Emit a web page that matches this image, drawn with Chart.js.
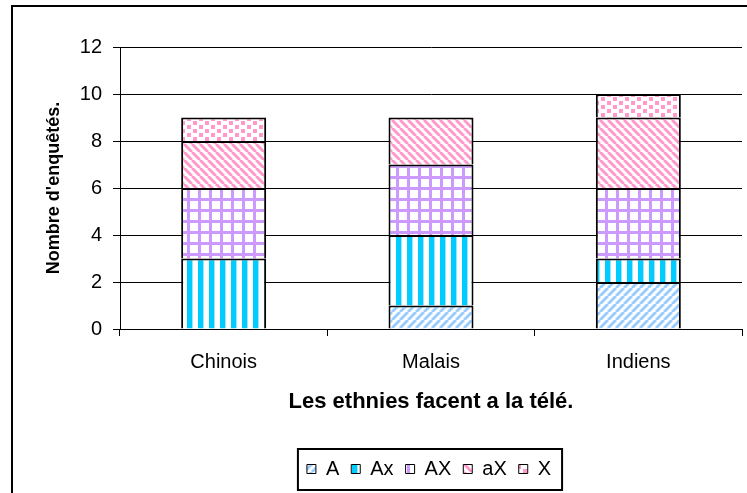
<!DOCTYPE html>
<html>
<head>
<meta charset="utf-8">
<script src="https://cdn.jsdelivr.net/npm/chart.js@4.4.1/dist/chart.umd.min.js"></script>
<style>
  html, body { margin: 0; padding: 0; background: #fff; }
</style>
</head>
<body>
<canvas id="chart" width="747" height="493"></canvas>
<script>
// données du graphique
const categories = ['Chinois', 'Malais', 'Indiens'];
const seriesNames = ['A', 'Ax', 'AX', 'aX', 'X'];
const valuesA  = [0, 1, 2];
const valuesAx = [3, 3, 1];
const valuesAX = [3, 3, 3];
const valuesaX = [2, 2, 3];
const valuesX  = [1, 0, 1];
const yTicks = [0, 2, 4, 6, 8, 10, 12];

const canvas = document.getElementById('chart');
const ctx = canvas.getContext('2d');
const FONT = "'Liberation Sans', Arial, sans-serif";

// petits motifs de remplissage (hachures style Excel)
function makePattern(w, h, draw) {
  const c = document.createElement('canvas');
  c.width = w; c.height = h;
  const g = c.getContext('2d');
  g.fillStyle = '#fff';
  g.fillRect(0, 0, w, h);
  draw(g, w, h);
  return ctx.createPattern(c, 'repeat');
}

function diag(g, w, color, up) {
  g.strokeStyle = color;
  g.lineWidth = 3;
  for (let k = -1; k <= 1; k++) {
    g.beginPath();
    if (up) { g.moveTo(k * w, w); g.lineTo(k * w + w, 0); }
    else { g.moveTo(k * w, 0); g.lineTo(k * w + w, w); }
    g.stroke();
  }
}

const patA = makePattern(8, 8, (g, w) => diag(g, w, '#99CCFF', true));
const patAx = makePattern(11, 1, g => {
  g.fillStyle = '#00CCFF'; g.fillRect(0, 0, 5, 1);
  g.fillStyle = '#99E6FF'; g.fillRect(5, 0, 1, 1);
});
const patAX = makePattern(11, 11, g => {
  g.fillStyle = '#CC99FF';
  g.fillRect(0, 0, 3, 11);
  g.fillRect(0, 0, 11, 3);
});
const pataX = makePattern(8, 8, (g, w) => diag(g, w, '#FF99CC', false));
const patX = makePattern(12, 8, g => {
  g.fillStyle = '#FF99CC';
  g.fillRect(1, 1, 4, 4);
  g.fillRect(7, 5, 4, 3);
  g.fillRect(7, 0, 4, 1);
});

const seriesValues = [valuesA, valuesAx, valuesAX, valuesaX, valuesX];
const seriesFills = [patA, patAx, patAX, pataX, patX];

const datasets = seriesNames.map((name, i) => ({
  label: name,
  data: seriesValues[i],
  backgroundColor: seriesFills[i],
  borderColor: '#000',
  borderWidth: { top: 2, bottom: 0, left: 2, right: 2 },
  borderSkipped: false,
  categoryPercentage: 1.0,
  barPercentage: 0.41
}));

// cadre, position et bordure de la légende
const framePlugin = {
  id: 'frame',
  afterLayout(chart) {
    const lg = chart.legend;
    lg.left += 58;
    lg.right += 58;
  },
  beforeDraw(chart) {
    const c = chart.ctx;
    c.save();
    c.fillStyle = '#fff';
    c.fillRect(0, 0, chart.width, chart.height);
    c.restore();
  },
  afterDraw(chart) {
    const c = chart.ctx;
    c.save();
    c.strokeStyle = '#000';
    c.lineWidth = 2;
    c.strokeRect(12, 6, 1000, 1000);
    const hb = chart.legend.legendHitBoxes;
    if (hb.length) {
      const first = hb[0], last = hb[hb.length - 1];
      const x0 = first.left - 9;
      const x1 = last.left + last.width + 11;
      const yc = first.top + first.height / 2;
      c.strokeRect(x0, yc - 20, x1 - x0, 41);
    }
    c.restore();
  }
};

new Chart(ctx, {
  type: 'bar',
  data: { labels: categories, datasets: datasets },
  options: {
    responsive: false,
    animation: false,
    layout: { padding: { left: 0, right: 5, top: 47, bottom: 4 } },
    plugins: {
      tooltip: { enabled: false },
      legend: {
        position: 'bottom',
        labels: {
          color: '#000',
          font: { family: FONT, size: 20 },
          boxWidth: 9,
          boxHeight: 9,
          padding: 12,
          generateLabels(chart) {
            return Chart.defaults.plugins.legend.labels.generateLabels(chart)
              .map(l => Object.assign(l, { lineWidth: 1, strokeStyle: '#000' }));
          }
        }
      }
    },
    scales: {
      x: {
        stacked: true,
        afterFit(scale) { scale.height = 118; },
        grid: {
          drawOnChartArea: false,
          drawTicks: true,
          tickLength: 7,
          offset: true,
          color: '#000',
          tickColor: '#000'
        },
        border: { display: true, color: '#000', width: 1 },
        ticks: { color: '#000', padding: 14, font: { family: FONT, size: 20 } },
        title: {
          display: true,
          text: 'Les ethnies facent a la télé.',
          color: '#000',
          font: { family: FONT, size: 22, weight: 'bold' },
          padding: { top: 0, bottom: 32 }
        }
      },
      y: {
        stacked: true,
        min: 0,
        max: 12,
        afterFit(scale) { scale.width = 120; },
        afterBuildTicks(scale) { scale.ticks = yTicks.map(v => ({ value: v })); },
        grid: {
          color: '#000',
          tickColor: '#000',
          lineWidth: 1,
          drawTicks: true,
          tickLength: 7
        },
        border: { display: true, color: '#000', width: 1 },
        ticks: { color: '#000', padding: 11, font: { family: FONT, size: 20 } },
        title: {
          display: true,
          text: "Nombre d'enquêtés.",
          color: '#000',
          font: { family: FONT, size: 18, weight: 'bold' },
          padding: { top: 43, bottom: 0 }
        }
      }
    }
  },
  plugins: [framePlugin]
});
</script>
</body>
</html>
